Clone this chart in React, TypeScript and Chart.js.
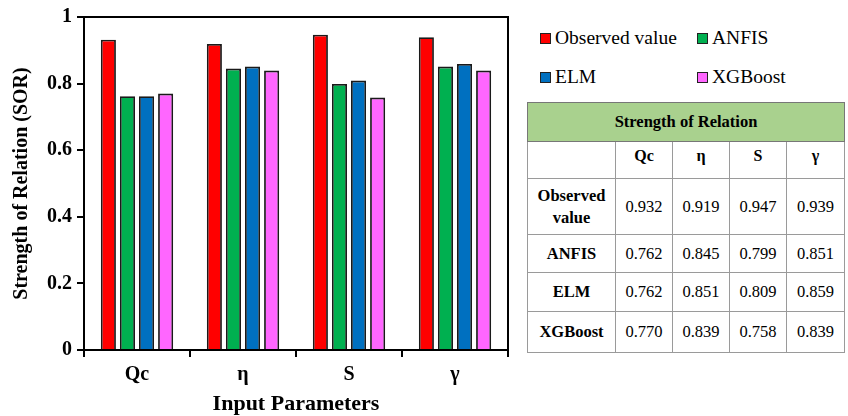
import React, { useEffect, useRef } from "react";
import { Chart, registerables } from "chart.js";

Chart.register(...registerables);

const categories = ["Qc", "η", "S", "γ"];
const seriesNames = ["Observed value", "ANFIS", "ELM", "XGBoost"];
const observed = [0.932, 0.919, 0.947, 0.939];
const anfis = [0.762, 0.845, 0.799, 0.851];
const elm = [0.762, 0.851, 0.809, 0.859];
const xgboost = [0.77, 0.839, 0.758, 0.839];
const colors = ["#ff0000", "#00b050", "#0070c0", "#ff66ff"];
const yTicks = [0, 0.2, 0.4, 0.6, 0.8, 1];

const FONT = "'Liberation Serif', 'Times New Roman', serif";

const frame = {
  id: "frame",
  afterDatasetsDraw(chart: any) {
    const { ctx, chartArea } = chart;
    ctx.save();
    ctx.strokeStyle = "#000";
    ctx.lineWidth = 2;
    ctx.strokeRect(chartArea.left, chartArea.top, chartArea.right - chartArea.left, chartArea.bottom - chartArea.top);
    ctx.restore();
  },
};

export default function App() {
  const ref = useRef<HTMLCanvasElement>(null);
  useEffect(() => {
    const series = [observed, anfis, elm, xgboost];
    const chart = new Chart(ref.current!, {
      type: "bar",
      data: {
        labels: categories,
        datasets: series.map((d, i) => ({
          label: seriesNames[i],
          data: d,
          backgroundColor: colors[i],
          borderColor: "#1a1a1a",
          borderWidth: 1.8,
          barPercentage: 0.79,
          categoryPercentage: 0.72,
        })),
      },
      options: {
        animation: false,
        responsive: false,
        layout: { padding: { top: 0, right: 12, left: 10, bottom: 1 } },
        plugins: { legend: { display: false }, tooltip: { enabled: false } },
        scales: {
          x: {
            grid: { display: true, drawOnChartArea: false, drawTicks: true, tickLength: 7, color: "#000", lineWidth: 2, offset: true },
            border: { display: true, color: "#000", width: 2 },
            ticks: { color: "#000", font: { family: FONT, size: 20, weight: "bold" }, padding: 6 },
            title: { display: true, text: "Input Parameters", color: "#000", font: { family: FONT, size: 22, weight: "bold", lineHeight: 1 }, padding: { top: 0, bottom: 0 } },
          },
          y: {
            min: 0,
            max: 1,
            afterBuildTicks: (axis: any) => {
              axis.ticks = yTicks.map((v) => ({ value: v }));
            },
            grid: { display: true, drawOnChartArea: false, drawTicks: true, tickLength: 7, color: "#000", lineWidth: 2 },
            border: { display: true, color: "#000", width: 2 },
            ticks: {
              color: "#000",
              font: { family: FONT, size: 20, weight: "bold" },
              padding: 5,
              callback: (v: any) => String(Number(v)),
            },
            title: { display: true, text: "Strength of Relation (SOR)", color: "#000", font: { family: FONT, size: 20, weight: "bold" }, padding: { top: 0, bottom: 8 } },
          },
        },
      },
      plugins: [frame],
    } as any);
    return () => chart.destroy();
  }, []);

  const rows = [
    { name: "Observed value", vals: observed, two: true },
    { name: "ANFIS", vals: anfis },
    { name: "ELM", vals: elm },
    { name: "XGBoost", vals: xgboost },
  ];
  const cellBorder = "1px solid #9a9a9a";
  const rowHeights = [37, 56, 38, 39, 41];

  return (
    <div style={{ position: "absolute", left: 0, top: 0, width: 848, height: 416, background: "#fff", fontFamily: FONT, overflow: "hidden" }}>
      <canvas ref={ref} width={520} height={416} style={{ position: "absolute", left: 0, top: 0 }} />
      {/* Legend */}
      <div style={{ position: "absolute", left: 540, top: 26, width: 300, fontSize: 19.5, color: "#000" }}>
        {seriesNames.map((n, i) => (
          <div
            key={n}
            style={{
              position: "absolute",
              left: i % 2 === 0 ? 0 : 157,
              top: i < 2 ? 0 : 39,
              display: "flex",
              alignItems: "center",
              whiteSpace: "nowrap",
              height: 24,
            }}
          >
            <span style={{ display: "inline-block", width: 9, height: 9, background: colors[i], border: "1px solid #222", marginRight: 4 }} />
            <span>{n}</span>
          </div>
        ))}
      </div>
      {/* Table */}
      <table
        style={{
          position: "absolute",
          left: 527,
          top: 102,
          width: 317,
          borderCollapse: "collapse",
          border: "1.5px solid #777",
          fontFamily: FONT,
          color: "#000",
          tableLayout: "fixed",
        }}
      >
        <colgroup>
          <col style={{ width: 88 }} />
          <col style={{ width: 57 }} />
          <col style={{ width: 57 }} />
          <col style={{ width: 57 }} />
          <col style={{ width: 58 }} />
        </colgroup>
        <tbody>
          <tr style={{ height: 39 }}>
            <td colSpan={5} style={{ background: "#a9d18e", textAlign: "center", fontWeight: "bold", fontSize: 16.5, border: "1.5px solid #777", padding: 0 }}>
              Strength of Relation
            </td>
          </tr>
          <tr style={{ height: rowHeights[0] }}>
            <td style={{ border: cellBorder }} />
            {categories.map((c) => (
              <td key={c} style={{ border: cellBorder, textAlign: "center", fontWeight: "bold", fontSize: 16, padding: 0, verticalAlign: "top", paddingTop: 5 }}>
                {c}
              </td>
            ))}
          </tr>
          {rows.map((r, ri) => (
            <tr key={r.name} style={{ height: rowHeights[ri + 1] }}>
              <td style={{ border: cellBorder, textAlign: "center", fontWeight: "bold", fontSize: 16.5, padding: 0, lineHeight: r.two ? "22px" : undefined }}>
                {r.two ? (
                  <>
                    Observed
                    <br />
                    value
                  </>
                ) : (
                  r.name
                )}
              </td>
              {r.vals.map((v, i) => (
                <td key={i} style={{ border: cellBorder, textAlign: "center", fontSize: 16.5, padding: 0 }}>
                  {v.toFixed(3)}
                </td>
              ))}
            </tr>
          ))}
        </tbody>
      </table>
    </div>
  );
}
